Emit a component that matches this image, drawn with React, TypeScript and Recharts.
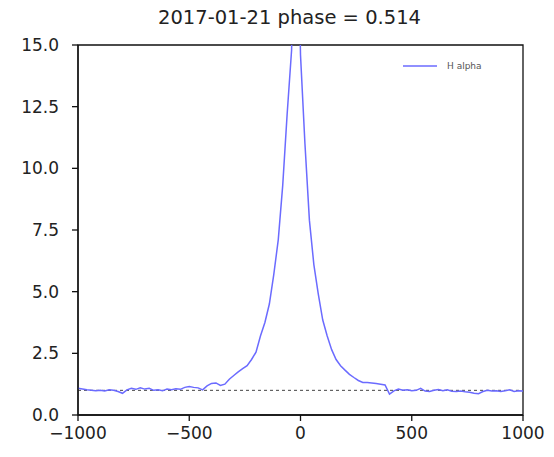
import { Line, LineChart, ReferenceArea, ReferenceLine, XAxis, YAxis } from 'recharts';

// velocity (km/s) and normalised flux
const velocity = [
  -1000, -980, -960, -940, -920, -900, -880, -860, -840, -820, -800, -780, -760, -740, -720, -700, -680,
  -660, -640, -620, -600, -580, -560, -540, -520, -500, -480, -460, -440, -420, -400, -380, -360, -340,
  -320, -300, -280, -260, -240, -220, -200, -180, -160, -140, -120, -100, -80, -60, -40, -20, 0, 20, 40,
  60, 80, 100, 120, 140, 160, 180, 200, 220, 240, 260, 280, 300, 320, 340, 360, 380, 400, 420, 440, 460,
  480, 500, 520, 540, 560, 580, 600, 620, 640, 660, 680, 700, 720, 740, 760, 780, 800, 820, 840, 860,
  880, 900, 920, 940, 960, 980, 1000,
];
const flux = [
  1.08, 1.05, 1.02, 1.0, 0.98, 1.0, 0.97, 1.02, 1.0, 0.95, 0.88, 1.02, 1.08, 1.04, 1.1, 1.05, 1.08,
  1.0, 1.02, 0.98, 1.05, 1.02, 1.06, 1.04, 1.12, 1.15, 1.12, 1.1, 1.02, 1.18, 1.28, 1.3, 1.2, 1.25,
  1.45, 1.6, 1.75, 1.88, 2.0, 2.25, 2.55, 3.2, 3.75, 4.5, 5.7, 7.1, 9.3, 12.2, 14.8, 24.0, 14.6, 11.0, 7.9,
  6.1, 4.9, 3.85, 3.2, 2.65, 2.25, 2.0, 1.82, 1.65, 1.52, 1.4, 1.32, 1.32, 1.3, 1.28, 1.25, 1.22, 0.85,
  0.98, 1.05, 1.0, 1.02, 0.98, 1.0, 1.08, 0.97, 0.95, 1.0, 1.03, 0.98, 1.02, 0.96, 0.95, 0.97, 0.94,
  0.92, 0.88, 0.86, 0.95, 1.0, 0.97, 0.98, 0.95, 0.98, 1.02, 0.95, 0.98, 0.97,
];
const xTicks = [-1000, -500, 0, 500, 1000];
const yTicks = [0, 2.5, 5, 7.5, 10, 12.5, 15];
const continuum = 1.0;

const data = velocity.map((v, i) => ({ v, flux: flux[i] }));

const FONT = '"DejaVu Sans", sans-serif';
const tickStyle = { fill: '#222', fontSize: 17, fontFamily: FONT };
const fmtX = (t: number) => (t < 0 ? `\u2212${Math.abs(t)}` : `${t}`);

export default function App() {
  return (
    <div style={{ position: 'absolute', left: 0, top: 0, width: 554, height: 457, background: '#fff' }}>
      <div
        style={{
          position: 'absolute',
          top: 6,
          left: 67,
          width: 445,
          textAlign: 'center',
          fontFamily: FONT,
          fontSize: 19.5,
          color: '#222',
        }}
      >
        2017-01-21 phase = 0.514
      </div>
      <LineChart width={554} height={457} data={data} margin={{ top: 45, right: 31, bottom: 12, left: 28 }}>
        <XAxis
          dataKey="v"
          type="number"
          domain={[-1000, 1000]}
          ticks={xTicks}
          tickFormatter={fmtX}
          tick={tickStyle}
          tickSize={6}
          tickMargin={6}
          height={30}
          stroke="#111"
          strokeWidth={1.3}
          allowDataOverflow
        />
        <YAxis
          type="number"
          domain={[0, 15]}
          ticks={yTicks}
          tickFormatter={(t: number) => t.toFixed(1)}
          tick={tickStyle}
          tickSize={6}
          tickMargin={13}
          width={50}
          stroke="#111"
          strokeWidth={1.3}
          allowDataOverflow
        />
        <ReferenceArea x1={-1000} x2={1000} y1={0} y2={15} fill="none" stroke="#111" strokeWidth={1.3} ifOverflow="visible" />
        <ReferenceLine y={continuum} stroke="#444" strokeDasharray="3 3" strokeWidth={1} />
        <Line
          type="linear"
          dataKey="flux"
          name="H alpha"
          stroke="#6b6bff"
          strokeWidth={1.5}
          dot={false}
          isAnimationActive={false}
        />
      </LineChart>
      <svg style={{ position: 'absolute', left: 400, top: 56 }} width={110} height={20}>
        <line x1={3} x2={37} y1={10} y2={10} stroke="#6b6bff" strokeWidth={1.5} />
        <text x={47} y={13} fontSize={9} fontFamily={FONT} fill="#555">
          H alpha
        </text>
      </svg>
    </div>
  );
}
